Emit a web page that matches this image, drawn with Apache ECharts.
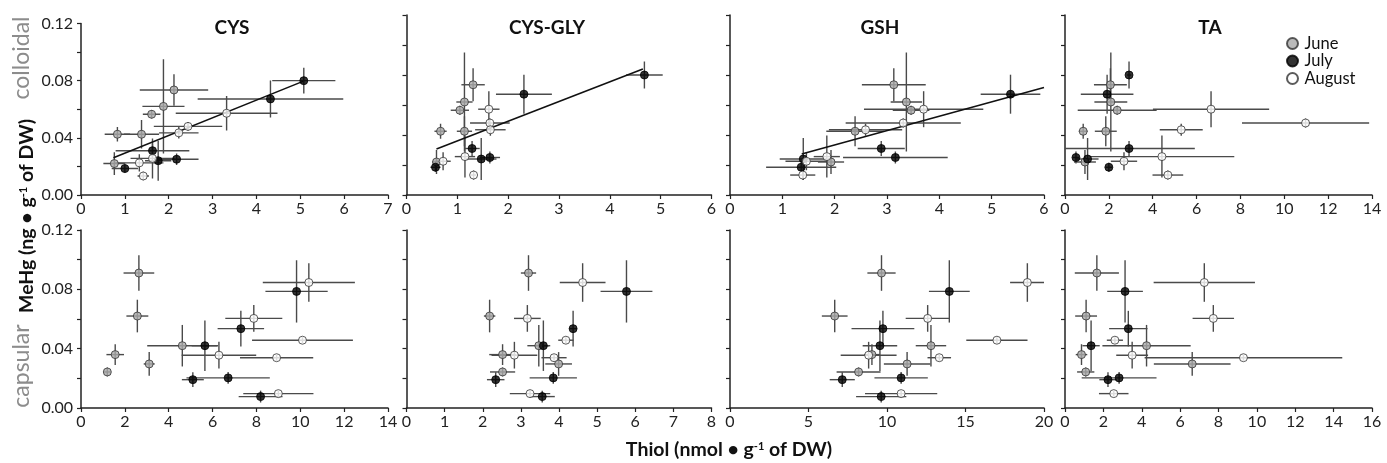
<!DOCTYPE html>
<html>
<head>
<meta charset="utf-8">
<script src="https://cdn.jsdelivr.net/npm/echarts@6/dist/echarts.min.js"></script>
<style>
  html, body { margin: 0; padding: 0; background: #fff; }
  #chart { width: 1387px; height: 463px; }
</style>
</head>
<body>
<div id="chart"></div>
<script>
// ---- MeHg (ng g-1 DW), [mean, sd] for six sites, colloidal fraction ----
const colMeHgJune = [[0.0735, 0.011], [0.062, 0.033], [0.0565, 0.003], [0.0425, 0.005], [0.0425, 0.010], [0.022, 0.008]];
const colMeHgJuly = [[0.080, 0.009], [0.0672, 0.013], [0.031, 0.005], [0.025, 0.004], [0.024, 0.014], [0.0185, 0.003]];
const colMeHgAug  = [[0.0572, 0.012], [0.048, 0.003], [0.0435, 0.004], [0.0256, 0.014], [0.0225, 0.006], [0.0133, 0.003]];

// ---- MeHg, capsular fraction ----
const capMeHgJune = [[0.091, 0.012], [0.062, 0.011], [0.042, 0.014], [0.036, 0.007], [0.0297, 0.008], [0.0243, 0.003]];
const capMeHgJuly = [[0.0786, 0.021], [0.0535, 0.012], [0.042, 0.017], [0.0203, 0.004], [0.0191, 0.005], [0.0077, 0.004]];
const capMeHgAug  = [[0.0846, 0.013], [0.0604, 0.009], [0.0457, 0.002], [0.0356, 0.009], [0.0339, 0.002], [0.0097, 0.002]];

// ---- Thiols (nmol g-1 DW), [mean, sd], same site order; null = no value ----
const cysColJune = [[2.12, 0.78], [1.88, 0.48], [1.61, 0.2], [0.83, 0.29], [1.38, 0.4], [0.76, 0.25]];
const cysColJuly = [[5.08, 0.72], [4.32, 1.66], [1.63, 0.84], [2.18, 0.5], [1.76, 0.3], [1.0, 0.3]];
const cysColAug  = [[3.32, 1.16], [2.44, 0.78], [2.23, 0.45], [1.63, 0.5], [1.33, 0.55], [1.42, 0.13]];

const glyColJune = [[1.31, 0.23], [1.14, 0.16], [1.05, 0.18], [0.67, 0.12], [1.14, 0.15], [0.59, 0.08]];
const glyColJuly = [[4.68, 0.36], [2.31, 0.55], [1.29, 0.15], [1.64, 0.2], [1.47, 0.3], [0.57, 0.1]];
const glyColAug  = [[1.62, 0.21], [1.64, 0.39], [1.65, 0.3], [1.15, 0.2], [0.72, 0.15], [1.32, 0.05]];

const gshColJune = [[3.13, 0.61], [3.37, 0.3], [3.46, 0.35], null, [2.39, 0.55], [1.93, 0.25]];
const gshColJuly = [null, [5.36, 0.57], [2.89, 0.45], [3.16, 1.0], [1.40, 0.45], [1.36, 0.67]];
const gshColAug  = [[3.70, 1.14], [3.31, 1.1], [2.59, 0.7], [1.85, 0.25], [1.46, 0.4], [1.39, 0.24]];

const taColJune = [[2.07, 0.75], [2.09, 0.75], [2.38, 1.8], [0.83, 0.2], [1.86, 0.5], [0.91, 0.5]];
const taColJuly = [[2.92, 0.1], [1.92, 1.2], [2.92, 3.0], [0.50, 0.15], [1.03, 0.5], [2.0, 0.15]];
const taColAug  = [[6.66, 2.65], [10.97, 2.9], [5.30, 0.98], [4.42, 3.3], [2.69, 0.6], [4.69, 0.7]];

const cysCapJune = [[2.64, 0.7], [2.57, 0.5], [4.62, 1.6], [1.56, 0.4], [3.11, 0.25], [1.2, 0.15]];
const cysCapJuly = [[9.83, 1.42], [7.29, 1.06], [5.65, 0.6], [6.71, 1.9], [5.1, 0.5], [8.19, 1.0]];
const cysCapAug  = [[10.39, 2.1], [7.88, 1.3], [10.1, 2.3], [6.29, 1.7], [8.92, 1.67], [9.0, 1.6]];

const glyCapJune = [[3.2, 0.2], [2.18, 0.15], [3.47, 0.3], [2.52, 0.35], [3.99, 0.35], [2.52, 0.33]];
const glyCapJuly = [[5.77, 0.68], [4.37, 0.1], [3.59, 0.15], [3.85, 0.62], [2.34, 0.23], [3.56, 0.33]];
const glyCapAug  = [[4.62, 0.6], [3.17, 0.35], [4.18, 0.2], [2.83, 0.6], [3.87, 0.33], [3.24, 0.53]];

const gshCapJune = [[9.65, 0.9], [6.67, 0.82], [12.8, 0.97], [9.04, 0.5], [11.28, 1.48], [8.19, 1.4]];
const gshCapJuly = [[13.97, 1.3], [9.74, 2.0], [9.55, 1.1], [10.9, 1.7], [7.15, 0.8], [9.63, 1.6]];
const gshCapAug  = [[18.94, 1.1], [12.59, 1.4], [17.0, 1.95], [8.83, 1.78], [13.33, 0.75], [10.9, 2.3]];

const taCapJune = [[1.66, 1.15], [1.10, 0.57], [4.25, 2.3], [0.86, 0.3], [6.63, 2.0], [1.08, 0.45]];
const taCapJuly = [[3.13, 0.93], [3.30, 1.0], [1.36, 0.45], [2.82, 1.95], [2.24, 0.45], null];
const taCapAug  = [[7.26, 2.64], [7.73, 1.08], [2.6, 0.42], [3.5, 0.83], [9.3, 5.15], [2.54, 0.77]];

// ---- Regression lines (colloidal), end points ----
const fitCys    = [[0.74, 0.026], [5.06, 0.0795]];
const fitCysGly = [[0.59, 0.0307], [4.65, 0.084]];
const fitGsh    = [[1.37, 0.0273], [6.0, 0.0716]];

// ---- Panel titles and axis ticks ----
const thiolNames = ['CYS', 'CYS-GLY', 'GSH', 'TA'];
const months = ['June', 'July', 'August'];
const colXMax = [7, 6, 6, 14],  colXStep = [1, 1, 1, 2];
const capXMax = [14, 8, 20, 16], capXStep = [2, 1, 5, 2];
const yMax = 0.12, yStep = 0.02;

// ---------------------------------------------------------------
const FONT = 'Lato, "Open Sans", sans-serif';
const AXIS = '#222';
const ERR = '#4a4a4a';
const monthStyle = [
  { color: '#a9a9a9', borderColor: '#333', borderWidth: 1 },
  { color: '#000000', borderColor: '#000', borderWidth: 1 },
  { color: '#ffffff', borderColor: '#333', borderWidth: 1 }
];

const meHgRows = [[colMeHgJune, colMeHgJuly, colMeHgAug], [capMeHgJune, capMeHgJuly, capMeHgAug]];
const thiolRows = [
  [[cysColJune, cysColJuly, cysColAug], [glyColJune, glyColJuly, glyColAug],
   [gshColJune, gshColJuly, gshColAug], [taColJune, taColJuly, taColAug]],
  [[cysCapJune, cysCapJuly, cysCapAug], [glyCapJune, glyCapJuly, glyCapAug],
   [gshCapJune, gshCapJuly, gshCapAug], [taCapJune, taCapJuly, taCapAug]]
];
const fits = [fitCys, fitCysGly, fitGsh, null];

// panel frames
const colFrames = [{ left: 81, width: 307 }, { left: 406.5, width: 305 }, { left: 730, width: 314 }, { left: 1065, width: 307 }];
const rowFrames = [
  [{ top: 23.5, height: 171.5 }, { top: 15, height: 180 }, { top: 15, height: 180 }, { top: 15, height: 180 }],
  [{ top: 230, height: 178 }, { top: 230, height: 178 }, { top: 230, height: 178 }, { top: 230, height: 178 }]
];

function renderErrorBar(params, api) {
  const x = api.value(0), y = api.value(1), dx = api.value(2), dy = api.value(3);
  const l = api.coord([x - dx, y]), r = api.coord([x + dx, y]);
  const t = api.coord([x, y + dy]), b = api.coord([x, y - dy]);
  const st = { stroke: ERR, lineWidth: 1.4 };
  return {
    type: 'group',
    children: [
      { type: 'line', shape: { x1: l[0], y1: l[1], x2: r[0], y2: r[1] }, style: st },
      { type: 'line', shape: { x1: t[0], y1: t[1], x2: b[0], y2: b[1] }, style: st }
    ]
  };
}

const grids = [], xAxes = [], yAxes = [], series = [];
for (let r = 0; r < 2; r++) {
  for (let c = 0; c < 4; c++) {
    const g = r * 4 + c;
    grids.push({ left: colFrames[c].left, width: colFrames[c].width, top: rowFrames[r][c].top, height: rowFrames[r][c].height });
    xAxes.push({
      type: 'value', gridIndex: g, min: 0,
      max: r === 0 ? colXMax[c] : capXMax[c],
      interval: r === 0 ? colXStep[c] : capXStep[c],
      axisLine: { show: true, onZero: false, lineStyle: { color: AXIS, width: 1.5 } },
      axisTick: { show: true, inside: false, length: 4, lineStyle: { color: AXIS, width: 1.2 } },
      axisLabel: { fontFamily: FONT, fontSize: 16, color: '#222', margin: 6 },
      splitLine: { show: false }
    });
    yAxes.push({
      type: 'value', gridIndex: g, min: 0, max: yMax, interval: yStep,
      axisLine: { show: true, onZero: false, lineStyle: { color: AXIS, width: 1.5 } },
      axisTick: { show: true, inside: false, length: 4, lineStyle: { color: AXIS, width: 1.2 } },
      axisLabel: {
        show: c === 0, fontFamily: FONT, fontSize: 16, color: '#222', margin: 8,
        formatter: v => (Math.round(v * 100) % 4 === 0 ? v.toFixed(2) : '')
      },
      splitLine: { show: false }
    });

    // error bars for every month in this panel
    const errData = [];
    const monthPoints = [];
    for (let m = 0; m < 3; m++) {
      const thiol = thiolRows[r][c][m];
      const meHg = meHgRows[r][m];
      const pts = [];
      thiol.forEach((t, i) => {
        if (!t) return;
        errData.push([t[0], meHg[i][0], t[1], meHg[i][1]]);
        pts.push([t[0], meHg[i][0]]);
      });
      monthPoints.push(pts);
    }
    series.push({
      type: 'custom', xAxisIndex: g, yAxisIndex: g, renderItem: renderErrorBar,
      data: errData, encode: { x: 0, y: 1 }, clip: true, silent: true, z: 1
    });
    if (r === 0 && fits[c]) {
      series.push({
        type: 'line', xAxisIndex: g, yAxisIndex: g, data: fits[c], symbol: 'none',
        lineStyle: { color: '#111', width: 1.6 }, silent: true, z: 2
      });
    }
    for (let m = 0; m < 3; m++) {
      series.push({
        name: months[m], type: 'scatter', xAxisIndex: g, yAxisIndex: g,
        data: monthPoints[m], symbol: 'circle', symbolSize: 8,
        itemStyle: monthStyle[m], z: 3
      });
    }
  }
}

const titleCenters = [232, 547, 880, 1210];
const titles = thiolNames.map((t, i) => ({
  text: t, left: titleCenters[i], top: 18, textAlign: 'center', padding: 0,
  textStyle: { fontFamily: FONT, fontSize: 19, fontWeight: 'bold', color: '#111' }
}));

function vText(x, y, text, style) {
  return {
    type: 'text', x: x, y: y, rotation: Math.PI / 2,
    style: Object.assign({ text: text, align: 'center', verticalAlign: 'middle',
      textAlign: 'center', textVerticalAlign: 'middle' }, style)
  };
}

const nameRich = {
  b: { fontFamily: FONT, fontSize: 19.5, fontWeight: 'bold', fill: '#111', color: '#111' },
  s: { fontFamily: FONT, fontSize: 11, fontWeight: 'bold', fill: '#111', color: '#111', padding: [0, 0, 8, 0] }
};

const chart = echarts.init(document.getElementById('chart'), null, { renderer: 'canvas' });
chart.setOption({
  animation: false,
  backgroundColor: '#fff',
  title: titles,
  legend: {
    data: months, orient: 'vertical', left: 1281, top: 30,
    icon: 'circle', itemWidth: 14, itemHeight: 11, itemGap: 0.5,
    textStyle: { fontFamily: FONT, fontSize: 16.5, color: '#111', lineHeight: 16 }
  },
  grid: grids, xAxis: xAxes, yAxis: yAxes, series: series,
  graphic: [
    vText(22, 58, 'colloidal', { font: 'normal 23px ' + FONT, fill: '#8c8c8c' }),
    vText(22, 366, 'capsular', { font: 'normal 23px ' + FONT, fill: '#8c8c8c' }),
    vText(27, 216, '{b|MeHg (ng • g}{s|-1}{b| of DW)}', { rich: nameRich }),
    {
      type: 'text', x: 729, y: 450,
      style: {
        text: '{b|Thiol (nmol • g}{s|-1}{b| of DW)}', align: 'center', verticalAlign: 'middle',
        textAlign: 'center', textVerticalAlign: 'middle', rich: nameRich
      }
    }
  ]
});
</script>
</body>
</html>
